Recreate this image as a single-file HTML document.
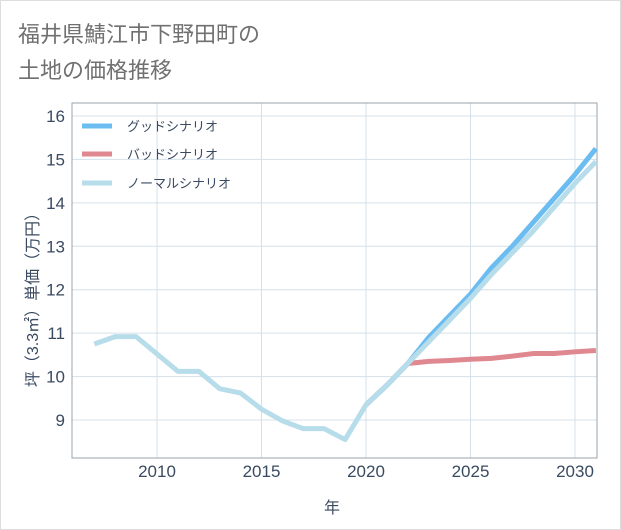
<!DOCTYPE html>
<html><head><meta charset="utf-8"><style>
body{margin:0;background:#fff;}
svg{display:block;font-family:"Liberation Sans","Noto Sans CJK JP",sans-serif;}
</style></head><body>
<svg id="c" width="621" height="530">
<rect x="0.5" y="0.5" width="620" height="529" fill="#fff" stroke="#ddd"/>
<text x="18" y="42" font-size="22" fill="#707070">福井県鯖江市下野田町の</text>
<text x="18" y="78" font-size="22" fill="#707070">土地の価格推移</text>
<g id="grid"></g>
<rect x="72" y="103" width="525" height="355" fill="none" stroke="#9aa3ab"/>
<g id="series"></g>
<g id="ticks" font-size="17" fill="#3a4a60"></g>
<text x="332" y="513" font-size="16" fill="#3a4a60" text-anchor="middle">年</text>
<text transform="translate(38,296) rotate(-90)" font-size="16" fill="#3a4a60" text-anchor="middle">坪（3.3㎡）単価（万円）</text>
<g font-size="13" fill="#3a4a60">
<line x1="82" y1="126" x2="112" y2="126" stroke="#6bbcf0" stroke-width="5"/>
<text x="127" y="131">グッドシナリオ</text>
<line x1="82" y1="154" x2="112" y2="154" stroke="#e0888f" stroke-width="5"/>
<text x="127" y="159">バッドシナリオ</text>
<line x1="82" y1="183" x2="112" y2="183" stroke="#b7dcea" stroke-width="5"/>
<text x="127" y="188">ノーマルシナリオ</text>
</g>
</svg>
<script>
const normalYears=[2007,2008,2009,2010,2011,2012,2013,2014,2015,2016,2017,2018,2019,2020,2021,2022,2023,2024,2025,2026,2027,2028,2029,2030,2031];
const normalVals=[10.75,10.92,10.92,10.52,10.12,10.12,9.72,9.62,9.25,8.98,8.8,8.8,8.55,9.35,9.8,10.3,10.8,11.3,11.8,12.35,12.85,13.35,13.9,14.45,14.95];
const scenYears=[2020,2021,2022,2023,2024,2025,2026,2027,2028,2029,2030,2031];
const goodVals=[9.35,9.8,10.3,10.9,11.4,11.9,12.5,13.0,13.55,14.1,14.65,15.25];
const badVals=[9.35,9.8,10.3,10.35,10.37,10.4,10.42,10.47,10.53,10.53,10.57,10.6];
const xTicks=[2010,2015,2020,2025,2030];
const yTicks=[9,10,11,12,13,14,15,16];
const X=y=>157+(y-2010)*20.9;
const Y=v=>420-(v-9)*43.43;
const NS="http://www.w3.org/2000/svg";
function mk(t,a,p){const e=document.createElementNS(NS,t);for(const k in a)e.setAttribute(k,a[k]);p.appendChild(e);return e;}
const grid=document.getElementById('grid'),ticks=document.getElementById('ticks'),ser=document.getElementById('series');
xTicks.forEach(t=>{const l=mk('line',{x1:X(t),x2:X(t),y1:103,y2:458,stroke:'#d5e0ea'},grid);


const tx=mk('text',{x:X(t),y:477,'text-anchor':'middle'},ticks);tx.textContent=t;

});
yTicks.forEach(t=>{const l=mk('line',{x1:72,x2:597,y1:Y(t),y2:Y(t),stroke:'#d5e0ea'},grid);


const tx=mk('text',{x:65,y:Y(t)+6,'text-anchor':'end'},ticks);tx.textContent=t;

});
function line(xs,vs,col,name){const p=mk('polyline',{points:xs.map((x,i)=>X(x)+','+Y(vs[i])).join(' '),fill:'none',stroke:col,'stroke-width':5,'stroke-linejoin':'round'},ser);

}
line(scenYears,badVals,'#e0888f','bad-scenario-line');
line(scenYears,goodVals,'#6bbcf0','good-scenario-line');
line(normalYears,normalVals,'#b7dcea','normal-scenario-line');
</script>
</body></html>
